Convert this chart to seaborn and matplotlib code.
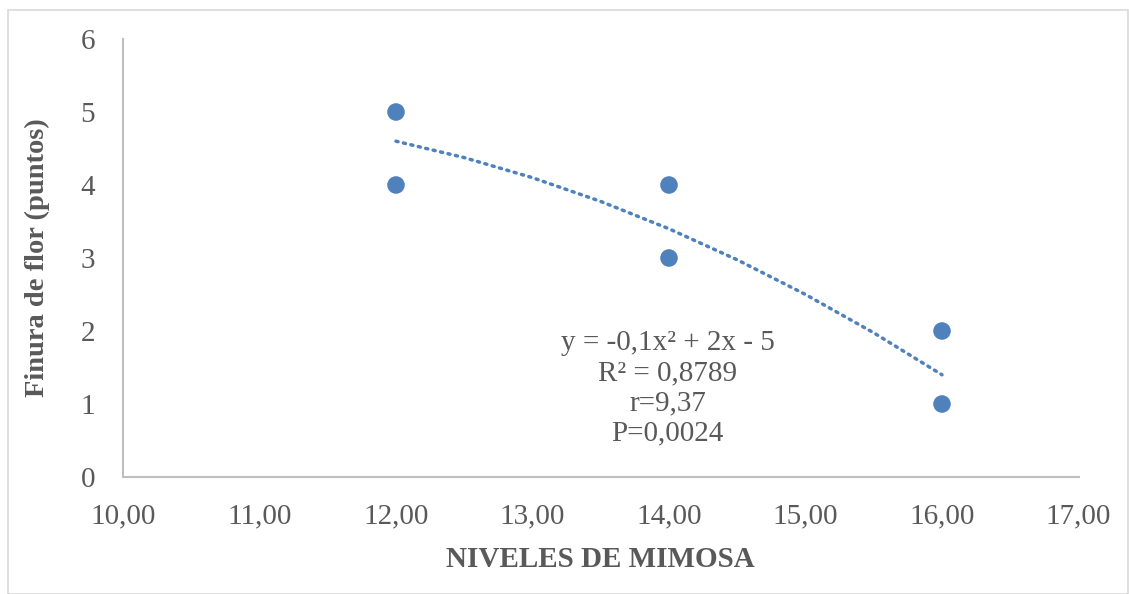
import numpy as np
import pandas as pd
import matplotlib
matplotlib.use("Agg")
import matplotlib.pyplot as plt
import seaborn as sns
from matplotlib.patches import Rectangle

# Data
x_vals = [12, 12, 14, 14, 16, 16]
y_vals = [5, 4, 4, 3, 2, 1]
trend_coef = [-0.1, 2.0, -5.0]  # y = -0,1x^2 + 2x - 5
trend_x = [12.0, 12.5, 13.0, 13.5, 14.0, 14.5, 15.0, 15.5, 16.0]
x_ticks = [10, 11, 12, 13, 14, 15, 16, 17]
y_ticks = [0, 1, 2, 3, 4, 5, 6]
annot_lines = ["y = -0,1x² + 2x - 5", "R² = 0,8789", "r=9,37", "P=0,0024"]

sns.set_theme(style="white")
plt.rcParams['font.family'] = ['Liberation Serif', 'DejaVu Serif']

color = "#4F81BD"
grey = "#595959"

fig = plt.figure(figsize=(11.29, 5.94), dpi=100)
ax = fig.add_axes([123/1129, 1-477/594, (1078.5-123)/1129, (477-39)/594])

df = pd.DataFrame({"x": x_vals, "y": y_vals})
tx = np.array(trend_x)
ty = np.polyval(trend_coef, tx)
tdf = pd.DataFrame({"x": tx, "y": ty})

sns.lineplot(data=tdf, x="x", y="y", ax=ax, color=color, linewidth=2.5,
             linestyle=(0, (0.6, 1.6)))
ax.lines[-1].set_dash_capstyle("round")
sns.scatterplot(data=df, x="x", y="y", ax=ax, color=color, s=160,
                edgecolor="none", zorder=3)

ax.set_xlim(10, 17)
ax.set_ylim(0, 6)
ax.set_xticks(x_ticks)
ax.set_xticklabels([f"{v:.2f}".replace(".", ",") for v in x_ticks])
ax.set_yticks(y_ticks)
ax.tick_params(axis="both", length=0, labelsize=21, labelcolor=grey)
ax.tick_params(axis="x", pad=19)
ax.tick_params(axis="y", pad=20)

for s in ["top", "right"]:
    ax.spines[s].set_visible(False)
for s in ["left", "bottom"]:
    ax.spines[s].set_color("#BFBFBF")
    ax.spines[s].set_linewidth(1.5)

ax.set_xlabel("NIVELES DE MIMOSA", fontsize=21, fontweight="bold", color=grey, labelpad=12)
ax.set_ylabel("Finura de flor (puntos)", fontsize=20.5, fontweight="bold", color=grey, labelpad=22)

ax.text(13.99, 1.22, "\n".join(annot_lines), ha="center", va="center",
        fontsize=21, color=grey, linespacing=1.2)

fig.patches.append(Rectangle((8/1129, 0), 1 - 9/1129, 1 - 10/594, transform=fig.transFigure,
                             fill=False, edgecolor="#D9D9D9", linewidth=1.2))

fig.savefig("out.png", dpi=100)
